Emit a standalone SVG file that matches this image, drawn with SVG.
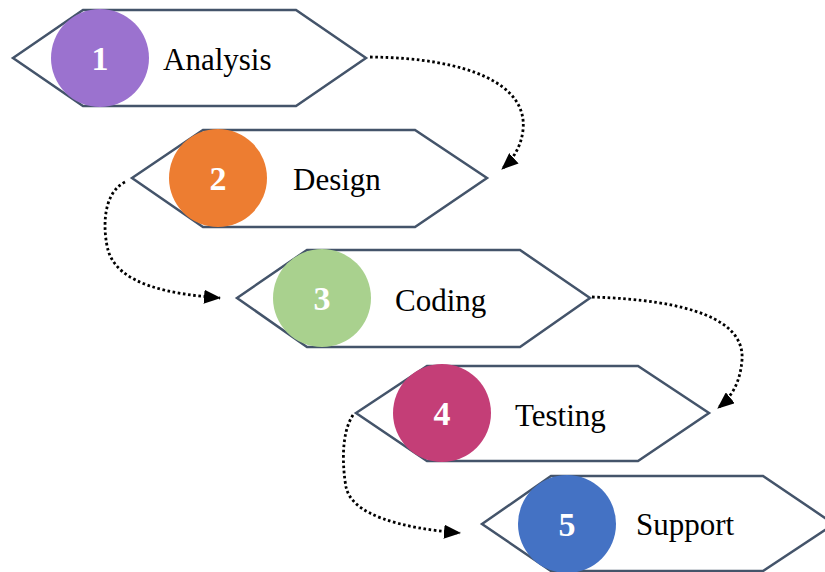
<svg xmlns="http://www.w3.org/2000/svg" width="825" height="572" viewBox="0 0 825 572">
<defs>
<style>
.hex{fill:#ffffff;stroke:#44546A;stroke-width:2.5;stroke-linejoin:miter}
.num{font-family:"Liberation Serif",serif;font-weight:bold;font-size:34px;fill:#ffffff;text-anchor:middle}
.lbl{font-family:"Liberation Serif",serif;font-size:31px;fill:#000000}
.conn{fill:none;stroke:#000000;stroke-width:2.8;stroke-dasharray:2.6 2.6}
</style>
<marker id="arr" markerUnits="userSpaceOnUse" markerWidth="17" markerHeight="14" refX="16" refY="7" orient="auto">
<path d="M0,0 L17,7 L0,14 z" fill="#000000"/>
</marker>
</defs>
<rect width="825" height="572" fill="#ffffff"/>
<g id="connectors">
<path class="conn" marker-end="url(#arr)" d="M 370 57 C 470 58, 528 85, 523 130 C 521 148, 512 160, 502 169"/>
<path class="conn" marker-end="url(#arr)" d="M 125 182 C 100 195, 104 235, 108 250 C 118 285, 170 294, 220 298"/>
<path class="conn" marker-end="url(#arr)" d="M 592 297 C 690 300, 745 320, 742 360 C 740 385, 730 398, 718 408"/>
<path class="conn" marker-end="url(#arr)" d="M 353 415 C 340 435, 343 470, 346 487 C 352 515, 400 528, 460 533"/>
</g>
<g id="node1">
<polygon class="hex" points="13,58 83,10 296,10 366,58 296,106 83,106"/>
<circle cx="100" cy="58" r="49" fill="#9B72CF"/>
<text class="num" x="100" y="70">1</text>
<text class="lbl" x="163" y="70">Analysis</text>
</g>
<g id="node2">
<polygon class="hex" points="132,178 203,130 415,130 487,178 415,227 203,227"/>
<circle cx="218" cy="178" r="49" fill="#ED7D31"/>
<text class="num" x="218" y="190">2</text>
<text class="lbl" x="293" y="190">Design</text>
</g>
<g id="node3">
<polygon class="hex" points="237,298 307,250 520,250 590,298 520,347 307,347"/>
<circle cx="322" cy="298" r="49" fill="#A9D18E"/>
<text class="num" x="322" y="310">3</text>
<text class="lbl" x="395" y="311">Coding</text>
</g>
<g id="node4">
<polygon class="hex" points="356,413 427,366 638,366 709,413 638,461 427,461"/>
<circle cx="442" cy="413" r="49" fill="#C43E77"/>
<text class="num" x="442" y="425">4</text>
<text class="lbl" x="515" y="426">Testing</text>
</g>
<g id="node5">
<polygon class="hex" points="482,524 551,476 763,476 834,524 763,571 551,571"/>
<circle cx="567" cy="524" r="49" fill="#4472C4"/>
<text class="num" x="567" y="536">5</text>
<text class="lbl" x="636" y="535">Support</text>
</g>
</svg>
